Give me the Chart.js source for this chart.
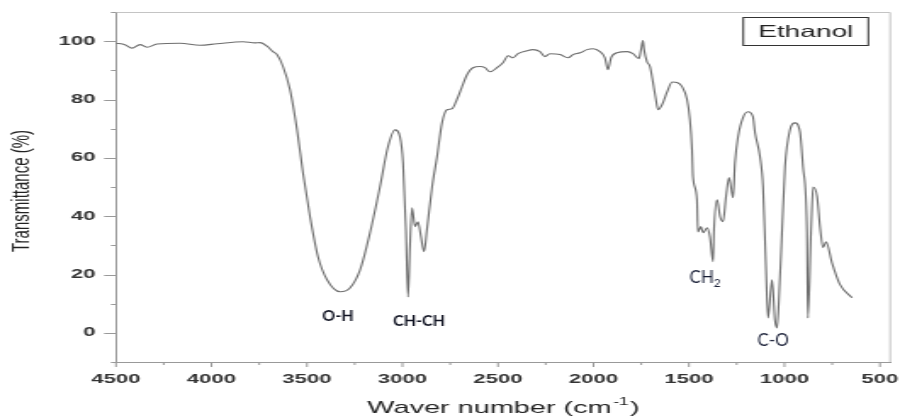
<!DOCTYPE html>
<html>
<head>
<meta charset="utf-8">
<title>Ethanol IR spectrum</title>
<script src="https://cdn.jsdelivr.net/npm/chart.js@4.4.1/dist/chart.umd.min.js"></script>
<style>
  html, body { margin: 0; padding: 0; background: #fff; overflow: hidden; }
  /* the plot is laid out narrow and widened sideways, like the exported figure */
  #wrap { position: absolute; left: 0; top: 0; width: 530px; height: 418px;
          transform: scaleX(1.69811); transform-origin: 0 0; }
</style>
</head>
<body>
<div id="wrap"><canvas id="irChart"></canvas></div>
<script>
// FTIR spectrum of ethanol: wavenumber (cm-1) against transmittance (%)
const wavenumbers = [
  4500, 4453, 4416, 4374, 4338, 4285, 4165, 4060, 3971, 3835, 3772, 3746, 3709, 3678, 3657,
  3626, 3589, 3552, 3521, 3484, 3442, 3395, 3327, 3275, 3222, 3170, 3118, 3076, 3039, 3013,
  2997, 2982, 2971, 2961, 2950, 2934, 2919, 2903, 2887, 2872, 2845, 2819, 2793, 2767, 2741,
  2715, 2688, 2662, 2631, 2594, 2568, 2542, 2505, 2474, 2447, 2421, 2395, 2348, 2317, 2280,
  2254, 2228, 2175, 2133, 2107, 2070, 2034, 2002, 1966, 1940, 1924, 1908, 1877, 1824, 1793,
  1762, 1751, 1741, 1735, 1720, 1704, 1688, 1673, 1662, 1641, 1615, 1588, 1562, 1536, 1510,
  1495, 1484, 1479, 1458, 1453, 1437, 1426, 1405, 1390, 1374, 1369, 1353, 1337, 1322, 1306,
  1290, 1269, 1259, 1243, 1217, 1191, 1165, 1154, 1128, 1112, 1097, 1086, 1065, 1050, 1039,
  1029, 1013, 997, 971, 945, 919, 903, 882, 877, 861, 850, 829, 814, 798, 782,
  751, 709, 646
];
const transmittance = [
  99.3, 98.8, 97.6, 98.8, 97.9, 99.0, 99.3, 98.6, 99.1, 99.8, 99.4, 99.5, 98.3, 96.4, 95.4,
  91.4, 83.4, 69.6, 54.9, 39.8, 26.0, 18.2, 14.1, 15.4, 21.6, 34.3, 50.0, 63.8, 69.6, 67.2,
  58.3, 35.3, 12.3, 29.5, 42.9, 36.4, 38.1, 32.9, 27.8, 35.3, 50.0, 60.4, 72.0, 76.5, 76.8,
  80.0, 84.4, 88.5, 90.9, 91.3, 90.9, 89.5, 90.9, 92.6, 95.0, 94.3, 95.7, 96.7, 97.1, 96.4,
  94.7, 95.7, 95.4, 94.3, 95.4, 96.0, 97.1, 97.4, 96.4, 94.3, 90.2, 94.3, 96.0, 96.4, 95.7,
  94.0, 97.1, 100.2, 97.1, 93.0, 91.3, 85.8, 80.0, 76.5, 78.2, 82.5, 86.0, 85.8, 84.4, 80.0,
  73.1, 62.8, 53.5, 45.6, 34.6, 36.4, 34.3, 36.0, 32.9, 24.4, 35.3, 45.6, 39.8, 38.1, 46.7,
  53.2, 46.3, 58.3, 67.2, 73.8, 75.8, 74.1, 68.6, 60.4, 50.0, 22.6, 5.1, 18.2, 4.5, 1.7,
  11.3, 34.3, 57.0, 69.6, 72.0, 69.0, 57.0, 34.3, 5.1, 34.3, 50.0, 46.7, 36.4, 29.2, 31.2,
  24.0, 16.5, 12.0
];

// axis ticks: labelled values plus the unlabelled minor ticks between them
const xTickLabels = [4500, 4000, 3500, 3000, 2500, 2000, 1500, 1000, 500];
const xMinorTicks = [4250, 3750, 3250, 2750, 2250, 1750, 1250, 750];
const yTickLabels = [0, 20, 40, 60, 80, 100];
const yMinorTicks = [-10, 10, 30, 50, 70, 90, 110];

// band assignments and where they sit (wavenumber, transmittance)
const bandNames = ['O-H', 'CH-CH', 'CH2', 'C-O'];
const bandAnchors = [[3338, 5.8], [2913, 4.1], [1416, 18.9], [1060, -2.7]];

const STRETCH = 900 / 530;
const FONT = "'Liberation Sans', Arial, sans-serif";
const tickFont = { family: FONT, size: 13, weight: 'bold' };

// text that keeps normal proportions inside the widened canvas
function plainText(ctx, str, x, y) {
  ctx.save();
  ctx.translate(x, y);
  ctx.scale(1 / STRETCH, 1);
  ctx.fillText(str, 0, 0);
  ctx.restore();
}

const spectrumDecor = {
  id: 'spectrumDecor',
  afterDraw(chart) {
    const { ctx, chartArea: a, scales: { x, y } } = chart;
    ctx.save();

    // light frame on top and right
    ctx.strokeStyle = '#c4c4c4';
    ctx.lineWidth = 1;
    ctx.beginPath();
    ctx.moveTo(a.left, a.top + 0.5);
    ctx.lineTo(a.right - 0.5, a.top + 0.5);
    ctx.lineTo(a.right - 0.5, a.bottom);
    ctx.stroke();

    // outward tick marks, long for labelled values
    ctx.strokeStyle = '#999';
    ctx.beginPath();
    x.ticks.forEach(t => {
      const px = x.getPixelForValue(t.value);
      const len = xTickLabels.includes(t.value) ? 5 : 3;
      ctx.moveTo(px, a.bottom);
      ctx.lineTo(px, a.bottom + len);
    });
    y.ticks.forEach(t => {
      const py = Math.round(y.getPixelForValue(t.value)) + 0.5;
      const len = yTickLabels.includes(t.value) ? 7 : 3;
      ctx.moveTo(a.left - len, py);
      ctx.lineTo(a.left, py);
    });
    ctx.stroke();

    // axis titles
    ctx.fillStyle = '#222';
    ctx.textBaseline = 'middle';
    ctx.font = `17px ${FONT}`;
    const main = 'Waver number (cm';
    const wMain = ctx.measureText(main).width;
    ctx.font = `10px ${FONT}`;
    const wSup = ctx.measureText('-1').width;
    ctx.font = `17px ${FONT}`;
    const wEnd = ctx.measureText(')').width;
    let tx = (a.left + a.right) / 2 - (wMain + wSup + 2 + wEnd) / 2;
    const ty = 408;
    ctx.textAlign = 'left';
    ctx.fillText(main, tx, ty);
    tx += wMain + 1;
    ctx.font = `10px ${FONT}`;
    ctx.fillText('-1', tx, ty - 6);
    tx += wSup + 1;
    ctx.font = `17px ${FONT}`;
    ctx.fillText(')', tx, ty);

    ctx.save();
    ctx.translate(13, (a.top + a.bottom) / 2 + 4);
    ctx.rotate(-Math.PI / 2);
    ctx.textAlign = 'center';
    ctx.font = `15px ${FONT}`;
    ctx.fillText('Transmittance (%)', 0, 0);
    ctx.restore();

    // series name in a framed box, top right
    const bx = a.right - 87, by = a.top + 5, bw = 73.6, bh = 28;
    ctx.strokeStyle = '#333';
    ctx.strokeRect(bx, by + 0.5, bw, bh);
    ctx.textAlign = 'center';
    ctx.font = `16.5px ${FONT}`;
    ctx.fillText(chart.data.datasets[0].label, bx + bw / 2, by + bh / 2 + 1);

    // band labels
    bandNames.forEach((name, i) => {
      const px = x.getPixelForValue(bandAnchors[i][0]);
      const py = y.getPixelForValue(bandAnchors[i][1]);
      const bold = i < 2;
      ctx.fillStyle = bold ? '#101322' : '#161c34';
      ctx.font = bold ? 'bold 16px Lato, sans-serif' : '17px Lato, sans-serif';
      if (name === 'CH2') {
        // "CH" with a subscript 2
        const wCH = ctx.measureText('CH').width / STRETCH;
        ctx.font = '12px Lato, sans-serif';
        const w2 = ctx.measureText('2').width / STRETCH;
        const left = px - (wCH + w2) / 2;
        ctx.textAlign = 'left';
        ctx.font = '17px Lato, sans-serif';
        plainText(ctx, 'CH', left, py);
        ctx.font = '12px Lato, sans-serif';
        plainText(ctx, '2', left + wCH, py + 5);
      } else {
        ctx.textAlign = 'center';
        plainText(ctx, name, px, py);
      }
    });

    ctx.restore();
  }
};

const ctx = document.getElementById('irChart').getContext('2d');
new Chart(ctx, {
  type: 'line',
  data: {
    datasets: [{
      label: 'Ethanol',
      data: wavenumbers.map((w, i) => ({ x: w, y: transmittance[i] })),
      borderColor: '#6e6e6e',
      borderWidth: 1.1,
      pointRadius: 0,
      fill: false,
      cubicInterpolationMode: 'monotone'
    }]
  },
  options: {
    responsive: true,
    maintainAspectRatio: false,
    animation: false,
    layout: { padding: { top: 12, right: 5.3, left: 0, bottom: 0 } },
    plugins: {
      legend: { display: false },
      tooltip: { enabled: false }
    },
    scales: {
      x: {
        type: 'linear',
        reverse: true,
        min: 442,
        max: 4500,
        afterBuildTicks: s => {
          s.ticks = xTickLabels.concat(xMinorTicks).sort((p, q) => p - q).map(v => ({ value: v }));
        },
        afterFit: s => { s.height = 56; s.paddingLeft = 0; s.paddingRight = 0; },
        grid: { drawOnChartArea: false, drawTicks: false },
        border: { color: '#999', width: 1 },
        ticks: {
          autoSkip: false,
          maxRotation: 0,
          padding: 10,
          color: '#333',
          font: tickFont,
          callback: v => (xTickLabels.includes(v) ? String(v) : '')
        }
      },
      y: {
        min: -10,
        max: 110,
        afterBuildTicks: s => {
          s.ticks = yTickLabels.concat(yMinorTicks).sort((p, q) => p - q).map(v => ({ value: v }));
        },
        afterFit: s => { s.width = 68.3; s.paddingTop = 0; s.paddingBottom = 0; },
        grid: { drawOnChartArea: false, drawTicks: false },
        border: { color: '#999', width: 1 },
        ticks: {
          autoSkip: false,
          padding: 12,
          color: '#333',
          font: tickFont,
          callback: v => (yTickLabels.includes(v) ? String(v) : '')
        }
      }
    }
  },
  plugins: [spectrumDecor]
});
</script>
</body>
</html>
